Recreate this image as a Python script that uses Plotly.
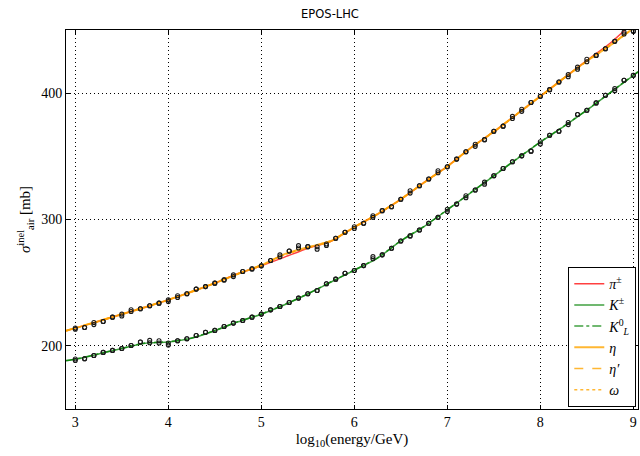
import plotly.graph_objects as go

# ---------------- data ----------------
x_curve = [2.9, 3.0, 3.25, 3.5, 3.75, 4.0, 4.25, 4.5, 4.75, 5.0, 5.25, 5.5, 5.75,
           6.0, 6.25, 6.5, 6.75, 7.0, 7.25, 7.5, 7.75, 8.0, 8.25, 8.5, 8.75, 9.0, 9.05]

pi_curve = [211.9, 214.0, 219.5, 225.0, 230.6, 236.4, 242.8, 249.6, 257.2, 263.3, 270.2, 277.3, 282.8,
            294.0, 304.3, 316.0, 329.3, 342.0, 356.6, 369.5, 383.5, 397.5, 411.7, 426.0, 439.5, 456.0, 459.0]
eta_curve = [211.9, 214.0, 219.5, 225.0, 230.6, 236.4, 242.8, 249.6, 257.0, 263.8, 272.6, 278.0, 283.0,
             294.0, 304.3, 316.0, 329.3, 342.0, 356.6, 369.5, 383.5, 397.5, 411.7, 425.5, 437.8, 451.5, 454.5]
etap_curve = [212.2, 214.3, 219.7, 225.2, 230.8, 236.6, 243.0, 249.8, 257.2, 264.0, 272.4, 277.8, 283.2,
              294.2, 304.5, 316.2, 329.5, 342.2, 356.8, 369.7, 383.7, 397.7, 411.9, 425.7, 438.0, 451.8, 454.8]
omega_curve = [211.7, 213.8, 219.3, 224.8, 230.4, 236.2, 242.6, 249.4, 256.8, 263.6, 272.2, 277.6, 282.8,
               293.8, 304.1, 315.8, 329.1, 341.8, 356.4, 369.3, 383.3, 397.3, 411.5, 425.3, 437.6, 451.2, 454.2]
kpm_curve = [188.2, 189.3, 193.5, 197.9, 202.0, 203.0, 206.0, 212.0, 219.0, 225.0, 232.5, 241.0, 250.5,
             259.8, 269.5, 283.0, 294.4, 307.6, 321.0, 334.6, 348.0, 361.3, 373.5, 386.5, 400.3, 414.0, 416.8]
k0l_curve = [188.4, 189.5, 193.7, 198.1, 202.2, 203.2, 206.2, 212.2, 219.2, 225.2, 232.7, 241.2, 250.7,
             260.0, 269.7, 283.2, 294.6, 307.8, 321.2, 334.8, 348.2, 361.5, 373.7, 386.7, 400.5, 414.2, 417.0]

x_pts = [3.0, 3.1, 3.2, 3.3, 3.4, 3.5, 3.6, 3.7, 3.8, 3.9,
         4.0, 4.1, 4.2, 4.3, 4.4, 4.5, 4.6, 4.7, 4.8, 4.9,
         5.0, 5.1, 5.2, 5.3, 5.4, 5.5, 5.6, 5.7, 5.8, 5.9,
         6.0, 6.1, 6.2, 6.3, 6.4, 6.5, 6.6, 6.7, 6.8, 6.9,
         7.0, 7.1, 7.2, 7.3, 7.4, 7.5, 7.6, 7.7, 7.8, 7.9,
         8.0, 8.1, 8.2, 8.3, 8.4, 8.5, 8.6, 8.7, 8.8, 8.9, 9.0]

pi_pts = [214.1, 214.5, 218.5, 219.3, 222.7, 225.1, 227.2, 229.3, 231.7, 233.8,
          236.4, 239.6, 241.2, 244.9, 246.9, 249.6, 252.2, 256.2, 258.8, 260.9,
          263.3, 267.5, 272.0, 275.1, 279.3, 278.5, 276.5, 280.6, 285.1, 289.9,
          294.3, 297.0, 301.7, 307.0, 310.1, 316.0, 322.7, 326.7, 332.0, 337.0,
          341.7, 347.8, 353.6, 359.6, 363.2, 369.9, 373.9, 379.9, 387.3, 392.6,
          397.5, 402.8, 408.8, 414.7, 418.9, 426.8, 429.9, 435.2, 441.0, 448.3, 449.0]
eta_pts = [213.2, 214.5, 216.8, 219.3, 222.7, 223.6, 228.6, 229.3, 231.7, 233.8,
           235.0, 238.3, 241.2, 244.9, 246.9, 249.6, 252.2, 254.8, 258.8, 260.9,
           263.3, 267.5, 270.5, 275.1, 277.4, 278.5, 278.4, 279.4, 285.1, 289.9,
           292.9, 297.0, 303.0, 307.0, 310.1, 316.0, 320.9, 326.7, 332.0, 338.6,
           341.7, 347.8, 353.6, 357.9, 363.2, 369.9, 373.9, 381.6, 385.6, 392.6,
           397.5, 402.8, 408.8, 413.0, 420.6, 424.9, 429.9, 435.2, 441.0, 446.8, 449.0]

kpm_pts = [189.6, 189.8, 192.4, 194.8, 196.4, 197.9, 200.3, 203.0, 204.3, 204.0,
           202.2, 204.0, 205.6, 208.2, 210.7, 212.2, 215.3, 218.0, 220.1, 222.7,
           225.1, 228.5, 231.1, 234.3, 237.8, 241.2, 243.8, 249.1, 252.8, 257.5,
           259.6, 263.5, 270.6, 272.0, 277.3, 283.0, 287.0, 291.7, 297.0, 301.7,
           308.1, 312.2, 318.8, 323.3, 329.6, 334.6, 340.4, 345.7, 350.4, 354.1,
           361.5, 366.7, 369.9, 376.8, 383.1, 386.5, 392.3, 398.3, 403.6, 410.2, 414.1]
k0l_pts = [188.4, 189.8, 192.4, 194.8, 196.4, 197.9, 200.3, 203.0, 202.4, 202.2,
           200.6, 204.0, 205.6, 208.2, 210.7, 212.2, 215.3, 218.0, 220.1, 222.7,
           225.1, 228.5, 231.1, 234.3, 237.8, 241.2, 243.8, 249.1, 252.8, 257.5,
           259.6, 263.5, 268.9, 272.0, 277.3, 283.0, 287.0, 291.7, 297.0, 301.7,
           306.4, 312.2, 317.2, 323.3, 328.0, 334.6, 340.4, 345.7, 350.4, 354.1,
           359.8, 366.7, 369.9, 375.1, 383.1, 386.5, 392.3, 398.3, 402.0, 410.2, 414.1]

x_ticks = [3, 4, 5, 6, 7, 8, 9]
y_ticks = [200, 300, 400]

RED = "rgba(255,0,0,0.75)"
GREEN = "rgba(0,128,0,0.75)"
ORANGE = "rgba(255,165,0,0.8)"

fig = go.Figure()

lines = [
    ("<i>π</i><sup>±</sup>", pi_curve, RED, "solid", 1.5),
    ("<i>K</i><sup>±</sup>", kpm_curve, GREEN, "solid", 1.5),
    ("<i>K</i><sup>0</sup><sub><i>L</i></sub>", k0l_curve, GREEN, "dashdot", 1.5),
    ("<i>η</i>", eta_curve, ORANGE, "solid", 2.0),
    ("<i>η′</i>", etap_curve, ORANGE, "dash", 1.5),
    ("<i>ω</i>", omega_curve, ORANGE, "dot", 1.5),
]
for name, ys, col, dash, w in lines:
    fig.add_trace(go.Scatter(x=x_curve, y=ys, mode="lines", name=name,
                             line=dict(color=col, width=w, dash=dash, shape="spline", smoothing=0.6)))

for ys in (pi_pts, eta_pts, kpm_pts, k0l_pts):
    fig.add_trace(go.Scatter(x=x_pts, y=ys, mode="markers", showlegend=False,
                             marker=dict(symbol="circle-open", size=4, color="#1a1a1a",
                                         line=dict(width=1.1, color="#1a1a1a"))))

serif = "Liberation Serif, DejaVu Serif, serif"
axis_common = dict(showline=True, linecolor="black", linewidth=1, mirror="allticks",
                   ticks="inside", ticklen=4, tickcolor="black",
                   showgrid=True, gridcolor="black", gridwidth=1, griddash="1px,3px",
                   zeroline=False, automargin=False,
                   tickfont=dict(family=serif, size=14, color="black"))

fig.update_layout(
    width=640, height=456,
    margin=dict(l=66, r=2, t=30, b=47),
    paper_bgcolor="white", plot_bgcolor="white",
    title=dict(text="EPOS-LHC", x=330 / 640, xanchor="center", y=0.97, yanchor="middle",
               font=dict(family="DejaVu Sans, sans-serif", size=11.5, color="black")),
    xaxis=dict(range=[2.9, 9.05], tickvals=x_ticks,
               title=dict(text="log<sub>10</sub>(energy/GeV)", standoff=4,
                          font=dict(family=serif, size=15, color="black")),
               **axis_common),
    yaxis=dict(range=[150, 450], tickvals=y_ticks,
               title=dict(text="<i>σ</i><sup>inel</sup><sub>air</sub> [mb]", standoff=6,
                          font=dict(family=serif, size=15, color="black")),
               **axis_common),
    legend=dict(x=0.997, y=0.005, xanchor="right", yanchor="bottom",
                bgcolor="white", bordercolor="black", borderwidth=1,
                font=dict(family=serif, size=14, color="black"),
                itemwidth=30, tracegroupgap=0),
    showlegend=True,
)

fig.write_html("out.html", config={"displayModeBar": False},
               post_script="document.body.style.margin='0';document.body.style.overflow='hidden';")
